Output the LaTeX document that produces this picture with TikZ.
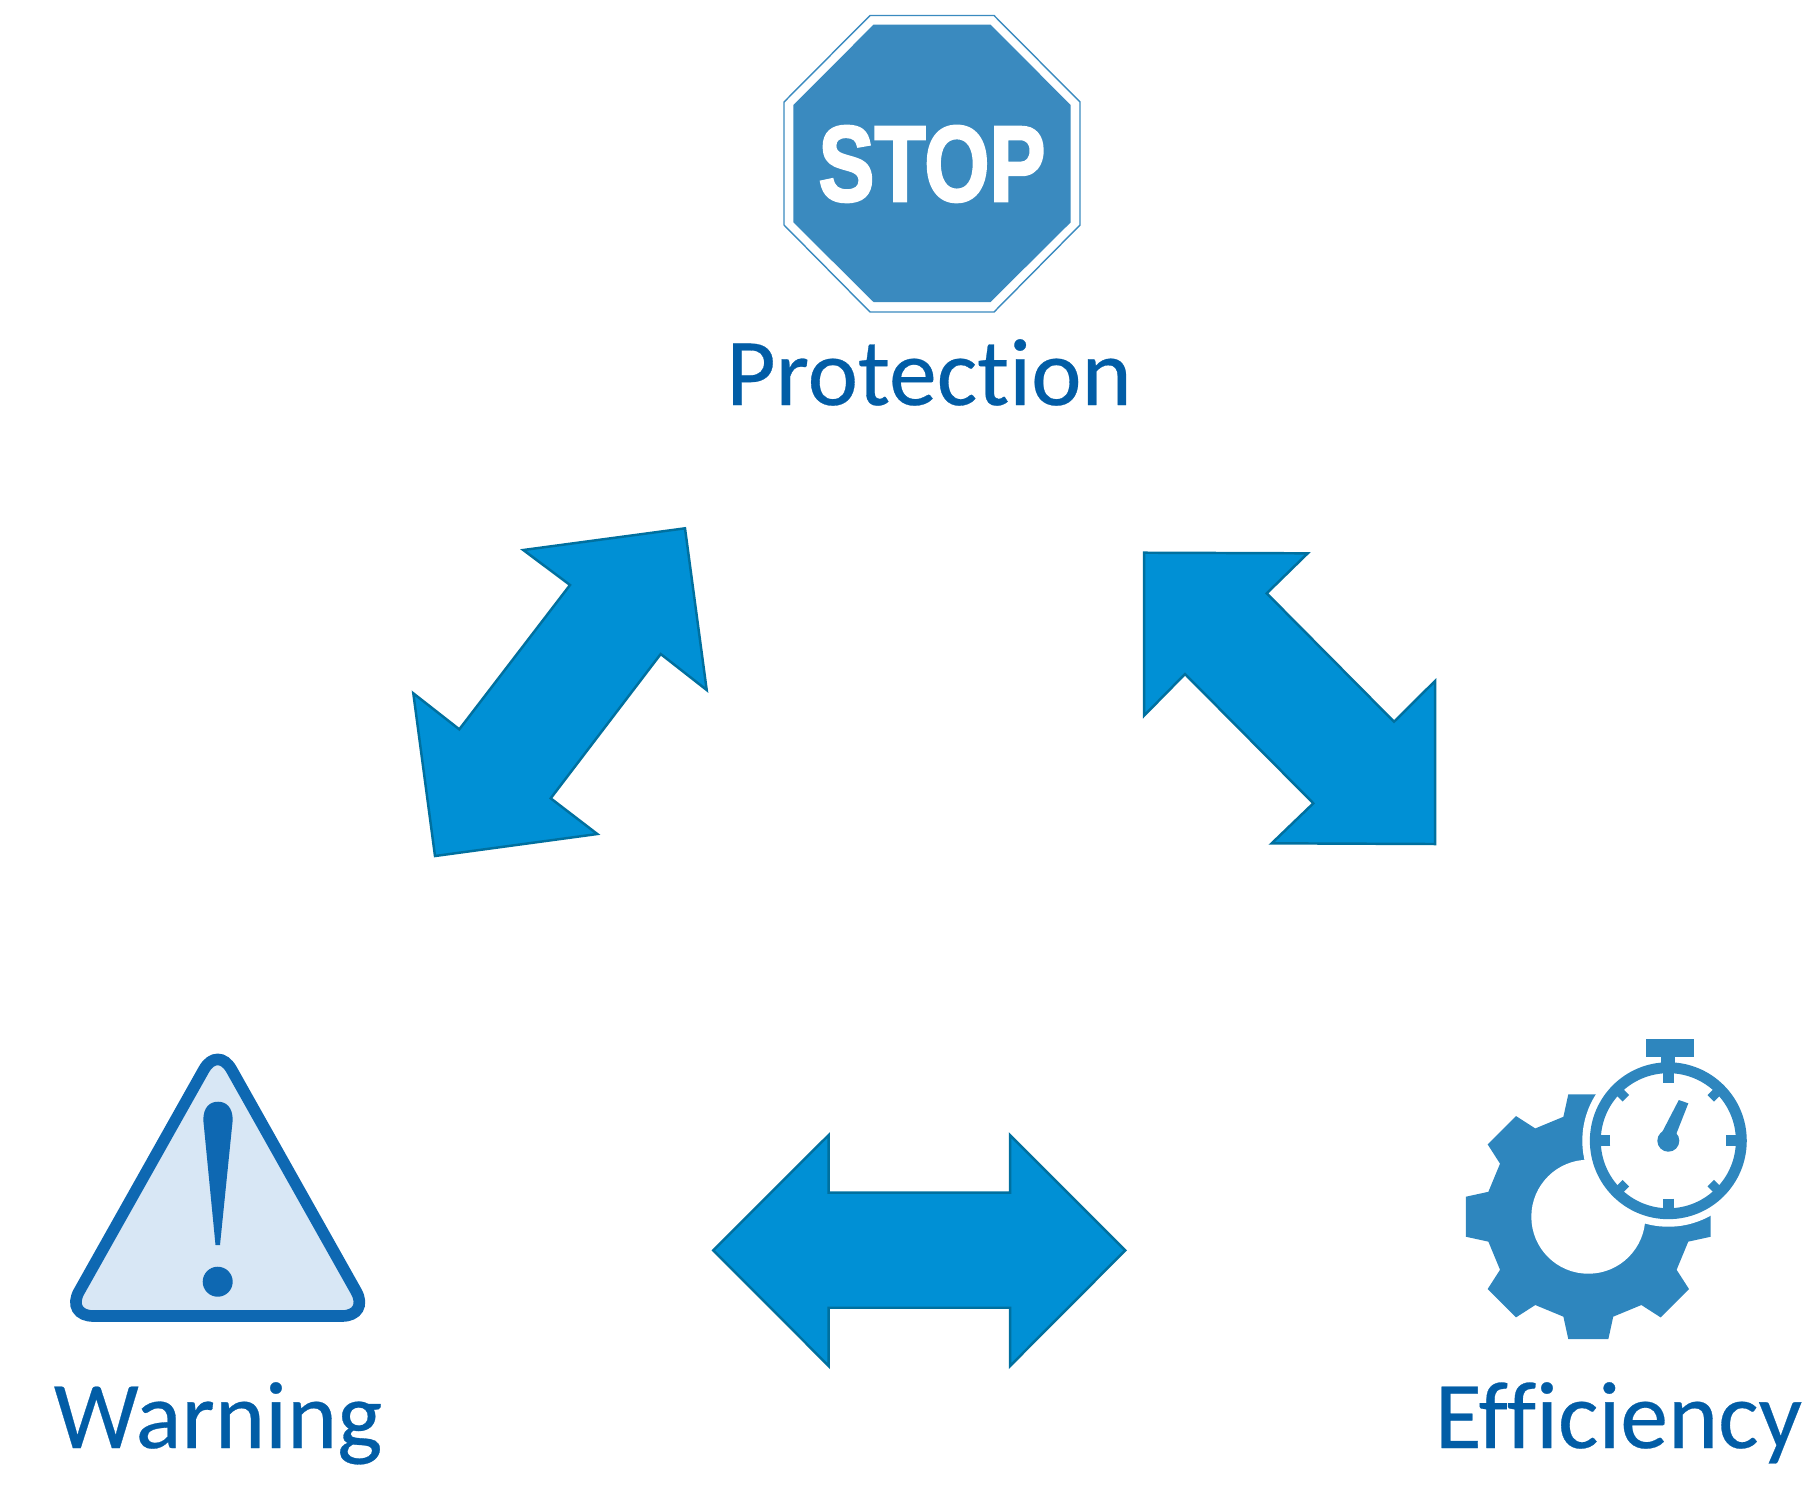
\documentclass[tikz,border=0pt]{standalone}
\usepackage{xcolor}
\usepackage{fontspec}
\setmainfont{Carlito}[Ligatures=NoCommon, FakeBold=0.3]
\newfontfamily\signfont{Liberation Sans}[FakeBold=2.4]
\usepackage{tikz}
\usetikzlibrary{positioning}
\definecolor{labelblue}{HTML}{025DA6}
\definecolor{arrowblue}{HTML}{0090D5}
\definecolor{arrowedge}{HTML}{00709F}
\definecolor{signblue}{HTML}{3A8ABF}
\definecolor{gearblue}{HTML}{2E86BE}
\definecolor{warnfill}{HTML}{D8E7F5}
\definecolor{warnblue}{HTML}{0E68B2}
\tikzset{
  caption/.style={text=labelblue, anchor=base, inner sep=0pt, font=\fontsize{27.2}{32}\selectfont},
  blockarrow/.style={fill=arrowblue, draw=arrowedge, line width=.7pt},
}
\begin{document}
\begin{tikzpicture}[x=.01cm, y=-.01cm]
  \useasboundingbox (0,0) rectangle (1819,1484);

  % Stop sign
  \draw[signblue, fill=white, line width=.4pt] (870,15.5) -- (994,15.5) -- (1080,102) -- (1080,225) -- (994,312) -- (870,312) -- (784,225) -- (784,102) -- cycle;
  \fill[signblue] (873.5,24.7) -- (990.5,24.7) -- (1070.7,105) -- (1070.7,222.3) -- (990.5,302) -- (873.5,302) -- (793.3,222.3) -- (793.3,105) -- cycle;
  \node[text=white, inner sep=0pt, anchor=base] (stoptext) at (932,201) {\signfont\bfseries\fontsize{30.6}{36}\selectfont\scalebox{.78}[1]{STOP}};
  \node[caption] (protection) at (929,405) {Protection};

  % Warning triangle
  \draw[warnblue, fill=warnfill, line width=3.3pt, rounded corners=8pt] (217.7,1045) -- (370,1316) -- (65.3,1316) -- cycle;
  \fill[warnblue] (203.3,1120) .. controls (203.3,1107) and (210,1101.7) .. (218,1101.7) .. controls (226,1101.7) and (232.7,1107) .. (232.7,1120) -- (220,1245) -- (215.5,1245) -- cycle;
  \fill[warnblue] (217.7,1281.7) circle (15);
  \node[caption] (warning) at (218,1448) {Warning};

  % Gear
  \begin{scope}[shift={(1588.3,1216.7)}]
    \fill[gearblue] (-14:103)
      \foreach \a in {0,45,...,315} { -- (\a-14:103) -- (\a-9.3:124) -- (\a+9.3:124) -- (\a+14:103) } -- cycle;
    \fill[white] (0,0) circle (57);
  \end{scope}

  % Stopwatch
  \begin{scope}[shift={(1668.3,1140.7)}]
    \fill[white] (0,0) circle (86);
    \draw[gearblue, line width=3.1pt] (0,0) circle (73);
    \fill[gearblue] (-22.6,-101.7) rectangle (25.7,-84);
    \fill[gearblue] (-7,-84) rectangle (7,-75);
    \foreach \a in {0,90,180,270}
      \draw[gearblue, line width=3pt] (\a:58) -- (\a:74);
    \foreach \a in {45,135,225,315}
      \draw[gearblue, line width=2.6pt] (\a:60) -- (\a:74);
    \fill[gearblue] (0,0) circle (11);
    \fill[gearblue] (-6.5,-8) -- (10.5,-40.7) -- (20,-37.4) -- (7.5,-5.7) -- cycle;
  \end{scope}
  \node[caption] (efficiency) at (1618.5,1448) {Efficiency};

  % Double arrows
  \draw[blockarrow] (685,528.3) -- (523.3,550) -- (570,585) -- (459.3,729.3) -- (413.3,693.3) -- (435,856) -- (597.3,834) -- (550.7,798.3) -- (660.7,654) -- (706.7,690) -- cycle;
  \draw[blockarrow] (1144,552.7) -- (1307.7,553.3) -- (1266.7,593.3) -- (1394,721.7) -- (1435,681) -- (1435,844) -- (1271.7,843.3) -- (1313.3,803.3) -- (1185,674) -- (1144,715.7) -- cycle;
  \draw[blockarrow] (713.3,1250.3) -- (828.7,1135) -- (828.7,1192.7) -- (1010,1192.7) -- (1010,1135) -- (1125.3,1250.3) -- (1010,1366) -- (1010,1307.7) -- (828.7,1307.7) -- (828.7,1366) -- cycle;
\end{tikzpicture}
\end{document}
